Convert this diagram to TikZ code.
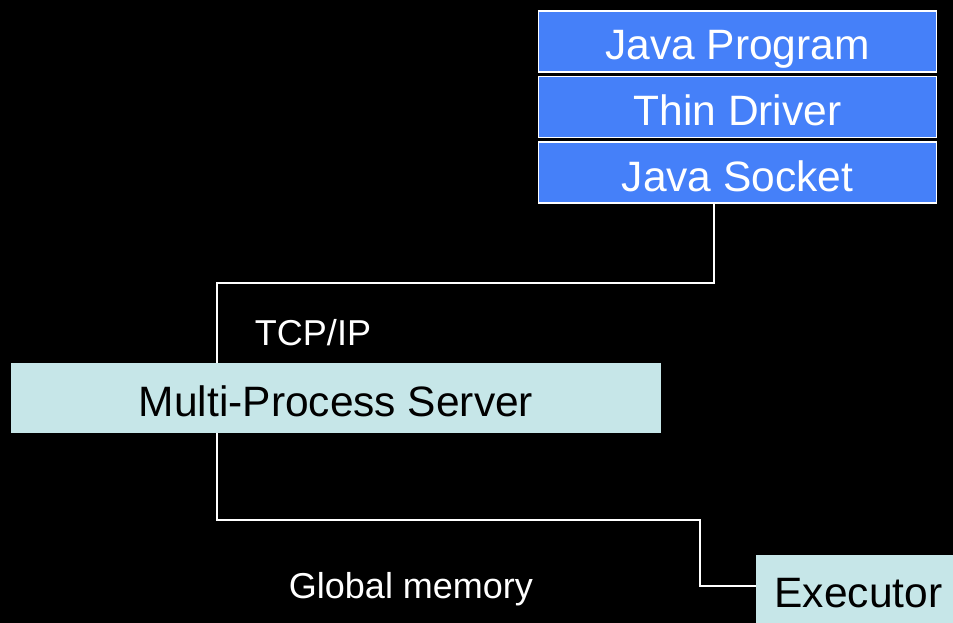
\documentclass[tikz,border=0pt]{standalone}
\usepackage{fontspec}
\setmainfont{Liberation Sans}
\usetikzlibrary{positioning}

\definecolor{layerblue}{HTML}{4580F9}
\definecolor{servercyan}{HTML}{C6E6E8}

\tikzset{
	stackpicture/.style = {
		x = 1pt,
		y = -1pt,
		font = \fontsize{42.5}{50}\selectfont,
		link/.style = {
			draw = white,
			line width = 2pt,
		}
	},
	layer/.style = {
		rectangle,
		draw = white,
		line width = 1.5pt,
		fill = layerblue,
		text = white,
		minimum width = 398pt,
		minimum height = 61pt,
		inner sep = 0pt,
		text height = 42.5pt,
		text depth = 5.5pt
	},
	server/.style = {
		rectangle,
		fill = servercyan,
		text = black,
		inner sep = 0pt,
		text height = 42.5pt,
		text depth = 5.5pt
	},
	tag/.style = {
		text = white,
		anchor = base,
		inner sep = 0pt,
		font = \fontsize{36}{42}\selectfont
	}
}

\begin{document}
\begin{tikzpicture}[stackpicture]
	\useasboundingbox (0,0) rectangle (953,623);
	\clip (0,0) rectangle (953,623);
	\fill[black] (0,0) rectangle (953,623);

	\node[layer] (prog) at (737.5,41.5) {Java Program};
	\node[layer, below = 3pt of prog] (drv) {Thin Driver};
	\node[layer, below = 3pt of drv] (sock) {Java Socket};

	\node[server, minimum width = 650pt, minimum height = 70pt] (mps) at (336,398) {Multi-Process Server};
	\node[server, minimum width = 205pt, minimum height = 68pt] (exe) at (858.5,589) {Executor};

	\node[tag] (tcp) at (313,345) {TCP/IP};
	\node[tag] (gmem) at (411,598) {Global memory};

	\coordinate (up) at (217,283);
	\coordinate (down) at (217,520);
	\coordinate (step) at (700,520);

	\begin{scope}[every path/.style = link]
		\path ([xshift = -23.5pt]sock.south) |- (up) -- (up |- mps.north);
		\path (down |- mps.south) -- (down) -- (step) |- ([yshift = 3pt]exe.west);
	\end{scope}
\end{tikzpicture}
\end{document}
